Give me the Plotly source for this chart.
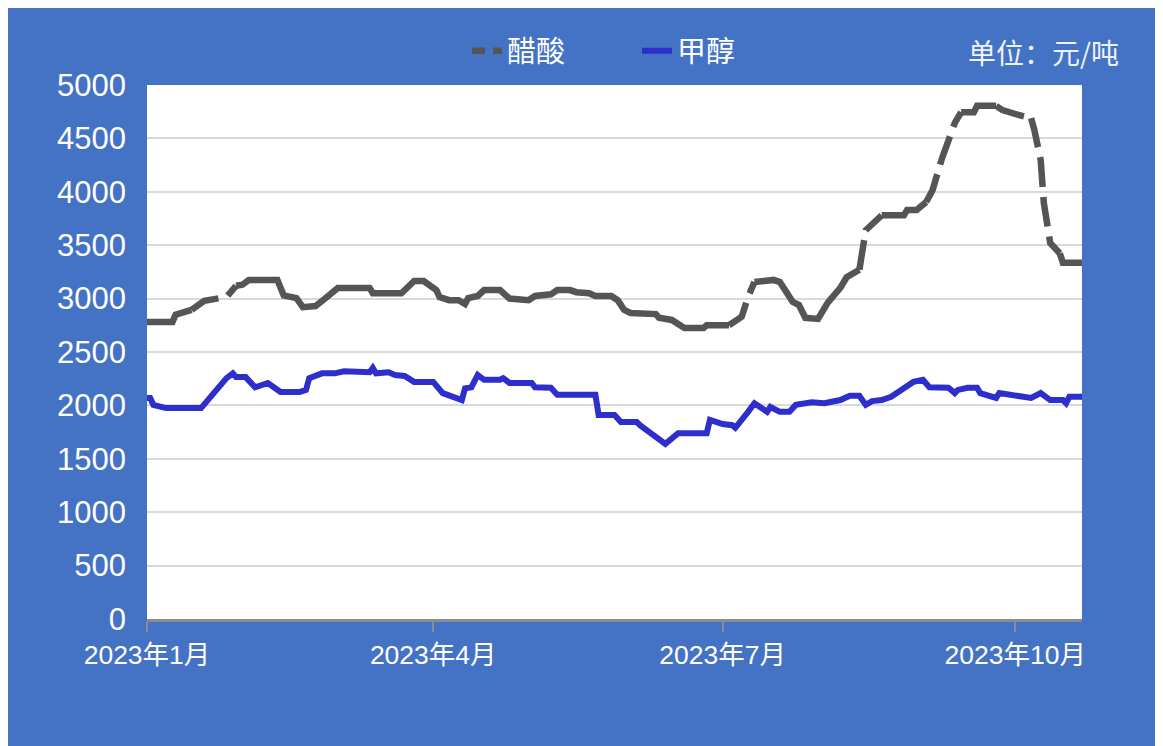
import plotly.graph_objects as go

# ---------------- data ----------------
acetic_dates = [
    "2023-01-01", "2023-01-09", "2023-01-10", "2023-01-13", "2023-01-15", "2023-01-17",
    "2023-01-19", "2023-01-23", "2023-01-26", "2023-01-29", "2023-01-31", "2023-02-02",
    "2023-02-11", "2023-02-13", "2023-02-17", "2023-02-19", "2023-02-23", "2023-02-26",
    "2023-03-02", "2023-03-12", "2023-03-13", "2023-03-22", "2023-03-26", "2023-03-29",
    "2023-04-02", "2023-04-03", "2023-04-06", "2023-04-09", "2023-04-11", "2023-04-12",
    "2023-04-15", "2023-04-17", "2023-04-22", "2023-04-25", "2023-05-01", "2023-05-03",
    "2023-05-08", "2023-05-10", "2023-05-14", "2023-05-16", "2023-05-20", "2023-05-22",
    "2023-05-27", "2023-05-29", "2023-05-31", "2023-06-02", "2023-06-10", "2023-06-11",
    "2023-06-15", "2023-06-19", "2023-06-25", "2023-06-26", "2023-07-03", "2023-07-07",
    "2023-07-09", "2023-07-11", "2023-07-17", "2023-07-19", "2023-07-23", "2023-07-25",
    "2023-07-27", "2023-07-31", "2023-08-03", "2023-08-07", "2023-08-09", "2023-08-13",
    "2023-08-15", "2023-08-20", "2023-08-27", "2023-08-28", "2023-08-31", "2023-09-03",
    "2023-09-05", "2023-09-08", "2023-09-12", "2023-09-14", "2023-09-18", "2023-09-19",
    "2023-09-25", "2023-09-27", "2023-10-02", "2023-10-06", "2023-10-07", "2023-10-09",
    "2023-10-10", "2023-10-12", "2023-10-15", "2023-10-16", "2023-10-22",
]
acetic_values = [
    2780, 2780, 2850, 2875, 2895, 2940,
    2980, 3000, 3015, 3120, 3130, 3175,
    3175, 3030, 3005, 2920, 2930, 3000,
    3100, 3100, 3050, 3050, 3165, 3165,
    3080, 3015, 2985, 2985, 2950, 3005,
    3025, 3080, 3080, 3000, 2985, 3025,
    3040, 3080, 3080, 3060, 3050, 3025,
    3025, 2985, 2895, 2865, 2855, 2820,
    2800, 2725, 2725, 2750, 2750, 2830,
    3015, 3155, 3175, 3155, 2970, 2940,
    2820, 2810, 2960, 3100, 3200, 3270,
    3640, 3780, 3780, 3830, 3830, 3905,
    4015, 4315, 4645, 4745, 4745, 4805,
    4805, 4765, 4720, 4690, 4580, 4300,
    3895, 3520, 3425, 3335, 3335,
]

methanol_dates = [
    "2023-01-01", "2023-01-02", "2023-01-03", "2023-01-07", "2023-01-18", "2023-01-26",
    "2023-01-28", "2023-01-29", "2023-02-01", "2023-02-04", "2023-02-08", "2023-02-12",
    "2023-02-18", "2023-02-20", "2023-02-21", "2023-02-25", "2023-03-01", "2023-03-04",
    "2023-03-12", "2023-03-13", "2023-03-14", "2023-03-18", "2023-03-20", "2023-03-23",
    "2023-03-26", "2023-04-01", "2023-04-04", "2023-04-10", "2023-04-11", "2023-04-13",
    "2023-04-15", "2023-04-17", "2023-04-22", "2023-04-23", "2023-04-25", "2023-05-02",
    "2023-05-03", "2023-05-08", "2023-05-10", "2023-05-22", "2023-05-23", "2023-05-28",
    "2023-05-30", "2023-06-04", "2023-06-05", "2023-06-07", "2023-06-12", "2023-06-13",
    "2023-06-17", "2023-06-26", "2023-06-27", "2023-07-01", "2023-07-04", "2023-07-05",
    "2023-07-09", "2023-07-11", "2023-07-15", "2023-07-16", "2023-07-19", "2023-07-22",
    "2023-07-24", "2023-07-29", "2023-08-02", "2023-08-07", "2023-08-10", "2023-08-13",
    "2023-08-15", "2023-08-17", "2023-08-20", "2023-08-23", "2023-08-27", "2023-08-30",
    "2023-09-02", "2023-09-04", "2023-09-10", "2023-09-12", "2023-09-13", "2023-09-16",
    "2023-09-19", "2023-09-20", "2023-09-25", "2023-09-26", "2023-10-06", "2023-10-09",
    "2023-10-12", "2023-10-16", "2023-10-17", "2023-10-18", "2023-10-22",
]
methanol_values = [
    2070, 2070, 2005, 1975, 1975, 2255,
    2300, 2265, 2265, 2170, 2210, 2125,
    2125, 2145, 2255, 2300, 2300, 2320,
    2310, 2350, 2300, 2310, 2285, 2275,
    2220, 2220, 2115, 2050, 2160, 2170,
    2285, 2240, 2240, 2255, 2210, 2210,
    2170, 2165, 2100, 2100, 1910, 1910,
    1845, 1845, 1815, 1770, 1650, 1640,
    1740, 1740, 1865, 1825, 1815, 1790,
    1940, 2020, 1940, 1985, 1940, 1940,
    2005, 2030, 2020, 2050, 2090, 2090,
    2005, 2040, 2050, 2080, 2160, 2220,
    2240, 2170, 2165, 2115, 2145, 2165,
    2165, 2115, 2070, 2115, 2070, 2115,
    2050, 2050, 2020, 2080, 2080,
]

series_names = ["醋酸", "甲醇"]
tick_dates = ["2023-01-01", "2023-04-01", "2023-07-01", "2023-10-01"]
tick_labels = ["2023年1月", "2023年4月", "2023年7月", "2023年10月"]
y_ticks = list(range(0, 5001, 500))
unit_text = "单位：元/吨"

# ranges of the acetic-acid line where the long-dash pattern shows gaps
dash_ranges = [
    ("2023-01-15", "2023-01-29"),
    ("2023-07-03", "2023-07-11"),
    ("2023-08-13", "2023-08-20"),
    ("2023-09-03", "2023-09-14"),
    ("2023-09-25", "2023-10-06"),
    ("2023-10-06", "2023-10-15"),
]

# ---------------- style ----------------
BG_BLUE = "#4472C4"
ACETIC_COLOR = "#555555"
METHANOL_COLOR = "#2E2ECC"
FONT = "Arial, 'Liberation Sans', 'Noto Sans CJK SC', sans-serif"
DASH = "30px,10px"

fig = go.Figure()

# split acetic series into solid / dashed pieces
bounds = [(acetic_dates.index(a), acetic_dates.index(b)) for a, b in dash_ranges]
pieces = []
cur = 0
for i0, i1 in bounds:
    if i0 > cur:
        pieces.append((cur, i0, "solid"))
    pieces.append((i0, i1, DASH))
    cur = i1
if cur < len(acetic_dates) - 1:
    pieces.append((cur, len(acetic_dates) - 1, "solid"))

for s, e, d in pieces:
    fig.add_trace(go.Scatter(
        x=acetic_dates[s:e + 1], y=acetic_values[s:e + 1],
        mode="lines", line=dict(color=ACETIC_COLOR, width=6.5, dash=d),
        name=series_names[0], legendgroup="a", showlegend=False,
        hoverinfo="skip",
    ))

# legend entries
fig.add_trace(go.Scatter(
    x=[None], y=[None], mode="lines",
    line=dict(color=ACETIC_COLOR, width=6.5, dash="13px,8px"),
    name=series_names[0], legendgroup="a", showlegend=True,
))
fig.add_trace(go.Scatter(
    x=methanol_dates, y=methanol_values, mode="lines",
    line=dict(color=METHANOL_COLOR, width=6),
    name=series_names[1], showlegend=True,
))

# figure coordinates (page is offset by the 8px body margin)
W, H = 1163, 746
OFF = 8
L, R, T, B = 147 - OFF, 1082 - OFF, 85 - OFF, 619 - OFF
pw, ph = R - L, B - T


def px_x(x):
    return (x - OFF - L) / pw


def px_y(y):
    return (B - (y - OFF)) / ph


fig.update_layout(
    width=W, height=H,
    margin=dict(l=L, r=W - R, t=T, b=H - B, pad=0),
    paper_bgcolor=BG_BLUE,
    plot_bgcolor="white",
    font=dict(family=FONT, color="white"),
    showlegend=True,
    legend=dict(
        orientation="h",
        x=px_x(467), xanchor="left",
        y=px_y(51), yanchor="middle",
        font=dict(size=29, color="white", family="'Noto Sans CJK SC', sans-serif"),
        bgcolor="rgba(0,0,0,0)",
        entrywidth=125, entrywidthmode="pixels",
    ),
    annotations=[
        dict(text=unit_text, xref="paper", yref="paper",
             x=px_x(1121), y=px_y(52), xanchor="right", yanchor="middle",
             showarrow=False,
             font=dict(size=28, color="#EEF2FA", family="'Noto Sans CJK SC', sans-serif")),
    ],
)

fig.update_xaxes(
    type="date",
    range=["2023-01-01", "2023-10-22"],
    tickvals=tick_dates, ticktext=tick_labels,
    tickfont=dict(size=26.5, color="white", family=FONT),
    ticks="outside", ticklen=10, tickwidth=1.5, tickcolor="#8C8C8C",
    showline=True, linecolor="#8C8C8C", linewidth=3,
    showgrid=False, zeroline=False,
)
fig.update_yaxes(
    range=[0, 5000],
    tickvals=y_ticks,
    tickfont=dict(size=31, color="white", family=FONT),
    ticks="", ticklabelstandoff=20,
    showgrid=True, gridcolor="#D9D9D9", gridwidth=2,
    showline=False, zeroline=False,
)

fig.write_html("out.html")
